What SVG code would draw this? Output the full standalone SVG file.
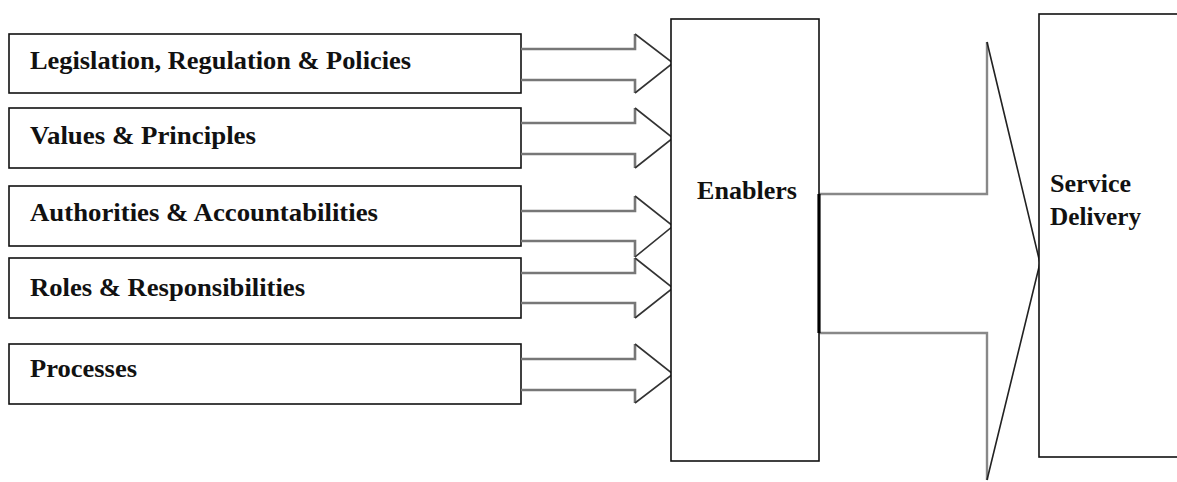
<svg xmlns="http://www.w3.org/2000/svg" width="1177" height="482" viewBox="0 0 1177 482">
<style>
.box{fill:#fff;stroke:#111;stroke-width:1.6}
.lbl{font-family:"Liberation Serif","Times New Roman",serif;font-weight:bold;font-size:26px;fill:#111}
.shaft{fill:none;stroke:#777;stroke-width:2.6}
.head{fill:none;stroke:#333;stroke-width:1.6;stroke-linejoin:miter}
.big{fill:none;stroke:#888;stroke-width:2.4}
.bighead{fill:none;stroke:#222;stroke-width:1.6}
</style>
<rect width="1177" height="482" fill="#fff"/>
<g id="n-legislation"><rect class="box" x="9" y="34" width="512" height="59"/><text class="lbl" x="30" y="69" textLength="381" lengthAdjust="spacingAndGlyphs">Legislation, Regulation &amp; Policies</text></g>
<g id="n-values"><rect class="box" x="9" y="108" width="512" height="60"/><text class="lbl" x="30" y="144" textLength="226" lengthAdjust="spacingAndGlyphs">Values &amp; Principles</text></g>
<g id="n-authorities"><rect class="box" x="9" y="186" width="512" height="60"/><text class="lbl" x="30" y="221" textLength="348" lengthAdjust="spacingAndGlyphs">Authorities &amp; Accountabilities</text></g>
<g id="n-roles"><rect class="box" x="9" y="258" width="512" height="60"/><text class="lbl" x="30" y="296" textLength="275" lengthAdjust="spacingAndGlyphs">Roles &amp; Responsibilities</text></g>
<g id="n-processes"><rect class="box" x="9" y="344" width="512" height="60"/><text class="lbl" x="30" y="377" textLength="107" lengthAdjust="spacingAndGlyphs">Processes</text></g>
<g id="connectors">
<path class="shaft" d="M521 49H635V34M521 80H635V93"/><path class="head" d="M635 34L673 63L635 93"/>
<path class="shaft" d="M521 123H635V108M521 154H635V168"/><path class="head" d="M635 108L673 138L635 168"/>
<path class="shaft" d="M521 211H635V196M521 241H635V257"/><path class="head" d="M635 196L673 226L635 257"/>
<path class="shaft" d="M521 273H635V258M521 303H635V318"/><path class="head" d="M635 258L673 288L635 318"/>
<path class="shaft" d="M521 359H635V344M521 390H635V403"/><path class="head" d="M635 344L673 374L635 403"/>
<path class="big" d="M819 194H987V42M819 333H987V480"/>
<path class="bighead" d="M987 42L1040 263L987 480"/>
</g>
<g id="n-enablers"><rect class="box" x="671" y="19" width="148" height="442"/><line x1="819" y1="194" x2="819" y2="333" stroke="#000" stroke-width="3.2"/><text class="lbl" x="697" y="199" textLength="100" lengthAdjust="spacingAndGlyphs">Enablers</text></g>
<g id="n-service"><rect class="box" x="1039" y="14" width="160" height="443"/><text class="lbl" x="1050" y="192" textLength="81" lengthAdjust="spacingAndGlyphs">Service</text><text class="lbl" x="1050" y="225" textLength="91" lengthAdjust="spacingAndGlyphs">Delivery</text></g>
</svg>
